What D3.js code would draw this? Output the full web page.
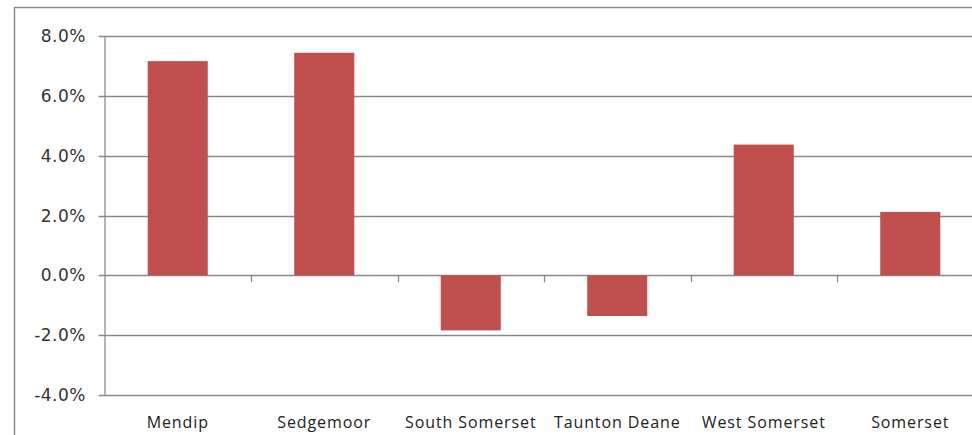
<!DOCTYPE html>
<html>
<head>
<meta charset="utf-8">
<script src="https://cdn.jsdelivr.net/npm/d3@7"></script>
<style>
  body { margin: 0; background: #fff; }
  svg { display: block; }
  .ylab { font-family: "DejaVu Sans", sans-serif; font-size: 17px; fill: #333; letter-spacing: 0.5px; }
  .xlab { font-family: "Open Sans", sans-serif; font-size: 16px; fill: #222; letter-spacing: 0.9px; }
</style>
</head>
<body>
<div id="chart"></div>
<script>
const categories = ["Mendip", "Sedgemoor", "South Somerset", "Taunton Deane", "West Somerset", "Somerset"];
const values = [7.16, 7.44, -1.84, -1.36, 4.37, 2.12];
const yTicks = [-4, -2, 0, 2, 4, 6, 8];

const W = 972, H = 435;
const plotLeft = 104.5, plotRight = 983.5, plotTop = 36, plotBottom = 395;

const svg = d3.select("#chart").append("svg")
    .attr("width", W)
    .attr("height", H);

// outer chart frame (cropped at right and bottom)
svg.append("rect")
    .attr("x", 14.5).attr("y", 7.5)
    .attr("width", 1000).attr("height", 500)
    .attr("fill", "none")
    .attr("stroke", "#8c8c8c")
    .attr("stroke-width", 1.5);

const x = d3.scaleBand()
    .domain(categories)
    .range([plotLeft, plotRight])
    .paddingInner(0.59)
    .paddingOuter(0.295);

const y = d3.scaleLinear()
    .domain([-4, 8])
    .range([plotBottom, plotTop]);

// gridlines
svg.append("g")
    .selectAll("line")
    .data(yTicks)
    .join("line")
    .attr("x1", plotLeft - 6)
    .attr("x2", W + 10)
    .attr("y1", d => Math.round(y(d)) + 0.5)
    .attr("y2", d => Math.round(y(d)) + 0.5)
    .attr("stroke", "#8a8a8a")
    .attr("stroke-width", 1.3);

// y axis line
svg.append("line")
    .attr("x1", plotLeft + 0.5).attr("x2", plotLeft + 0.5)
    .attr("y1", y(8)).attr("y2", y(-4))
    .attr("stroke", "#8a8a8a")
    .attr("stroke-width", 1.3);

// y labels
svg.append("g")
    .selectAll("text")
    .data(yTicks)
    .join("text")
    .attr("class", "ylab")
    .attr("x", 86)
    .attr("y", d => y(d))
    .attr("dy", "0.36em")
    .attr("text-anchor", "end")
    .text(d => d3.format(".1f")(d).replace("\u2212", "-") + "%");

// bars
svg.append("g")
    .selectAll("rect")
    .data(values)
    .join("rect")
    .attr("x", (d, i) => x(categories[i]))
    .attr("width", x.bandwidth())
    .attr("y", d => y(Math.max(0, d)))
    .attr("height", d => Math.abs(y(d) - y(0)))
    .attr("fill", "#c0504d");

// category ticks on zero line
const bounds = d3.range(1, categories.length + 1).map(i => plotLeft + i * x.step());
svg.append("g")
    .selectAll("line")
    .data(bounds)
    .join("line")
    .attr("x1", d => Math.round(d) + 0.5)
    .attr("x2", d => Math.round(d) + 0.5)
    .attr("y1", y(0))
    .attr("y2", y(0) + 7)
    .attr("stroke", "#8a8a8a")
    .attr("stroke-width", 1.3);

// category labels
svg.append("g")
    .selectAll("text")
    .data(categories)
    .join("text")
    .attr("class", "xlab")
    .attr("x", d => x(d) + x.bandwidth() / 2)
    .attr("y", 428)
    .attr("text-anchor", "middle")
    .text(d => d);
</script>
</body>
</html>
